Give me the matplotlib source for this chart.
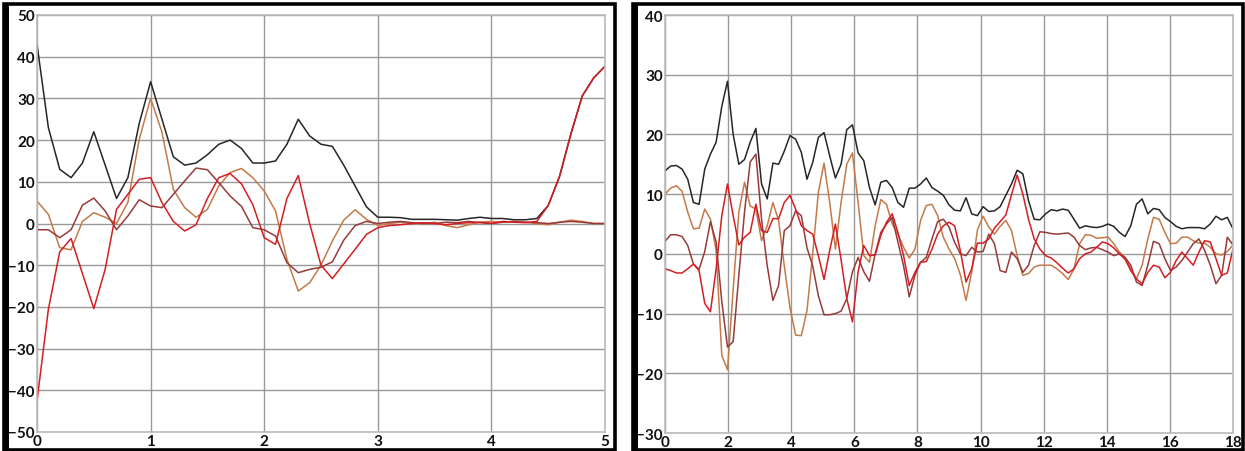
import matplotlib
matplotlib.use("Agg")
import matplotlib.pyplot as plt
import numpy as np
from matplotlib.patches import Rectangle

# ---- left panel data (step 0.1, 0..5) ----
x_left = np.linspace(0, 5, 51)
black_left = [43, 23, 13, 11, 14.5, 22, 14, 6, 11, 24,
              34, 25, 16, 14, 14.5, 16.5, 19, 20, 18, 14.5,
              14.5, 15, 19, 25, 21, 19, 18.5, 14, 9, 4,
              1.5, 1.5, 1.4, 1, 1, 1, 0.9, 0.8, 1.2, 1.5,
              1.2, 1.2, 0.9, 0.9, 1.2, 4.3, 11.3, 21.5, 30.6, 34.9, 37.7]
orange_left = [5.4, 2.2, -5.8, -6.3, 0.5, 2.6, 1.5, 0, 5.1, 20.2,
               30, 21.9, 8.2, 3.8, 1.5, 3.4, 9, 12.2, 13.2, 11,
               7.8, 3, -8.6, -16.2, -14.2, -10, -4.2, 0.8, 3.3, 1,
               -0.5, 0, 0.3, 0, 0, 0.3, -0.5, -1, -0.3, 0.3,
               0.5, 0.3, 0.5, 0.3, 0, -0.3, 0.3, 0.8, 0.5, 0, 0]
maroon_left = [-1.5, -1.5, -3.4, -1.5, 4.4, 6.1, 3, -1.5, 1.8, 5.7,
               4.2, 3.8, 7, 10.2, 13.3, 12.9, 9.8, 6.6, 4.1, -1,
               -1.5, -3, -9.4, -11.8, -11, -10.5, -9.2, -4, -0.5, 0.5,
               0, 0.3, 0.5, 0.2, 0, 0, 0.3, 0.2, 0.5, 0.2,
               0, 0.3, 0.5, 0.3, 0.2, 0, 0.3, 0.5, 0.3, 0, 0]
red_left = [-42.6, -20.6, -6.8, -3.6, -12, -20.4, -11, 3.4, 7, 10.6,
            11, 5, 0.5, -1.8, -0.3, 6, 11, 12, 9.5, 4.5,
            -3.4, -5, 6, 11.5, 0, -10, -13.2, -9.7, -6.2, -2.6,
            -1, -0.5, -0.3, 0, 0.2, 0, -0.3, 0, 0.2, 0.3,
            0, 0.5, 0.3, 0.2, 0.5, 4.3, 11.3, 21.5, 30.6, 34.9, 37.7]

# ---- right panel data (step 0.18, 0..18) ----
x_right = np.linspace(0, 18, 101)
black_right = [13.9, 14.7, 14.8, 14.2, 12.5, 8.6, 8.3, 14.2, 16.7, 18.7,
               24.7, 28.9, 20, 15, 15.8, 18.7, 21, 11.7, 9.2, 15.2,
               15, 17.2, 19.8, 19.2, 17, 12.5, 15.3, 19.5, 20.3, 16.4,
               12.7, 15, 20.8, 21.6, 16.9, 15.6, 11.1, 8.2, 12, 12.3,
               11.1, 8.6, 7.8, 11, 11, 11.7, 12.7, 11.1, 10.5, 9.8,
               8.2, 7.3, 7.2, 9.4, 6.7, 6.4, 7.9, 7.1, 7.2, 7.9,
               9.8, 11.7, 14, 13.4, 8.9, 5.8, 5.7, 6.7, 7.4, 7.2,
               7.5, 7.3, 5.8, 4.3, 4.7, 4.5, 4.4, 4.6, 5, 4.6,
               3.6, 2.9, 4.7, 8.3, 9.2, 6.7, 7.6, 7.4, 6.1, 5.4,
               4.6, 4.2, 4.4, 4.4, 4.4, 4.2, 5, 6.3, 5.7, 6.1, 4.2]
orange_right = [10, 11, 11.4, 10.5, 7, 4.2, 4.3, 7.5, 5.8, 0.6,
                -17, -19.4, -6, 7, 12, 8, 7.5, 2.2, 4.7, 8.6,
                5.6, -2, -9, -13.6, -13.7, -9.5, 0, 10.3, 15.2, 8.6,
                0.8, 8.6, 15, 16.9, 8.6, -0.3, -1.4, 4.7, 9.1, 8.3,
                5, 3.3, 1.1, -0.7, 0.8, 5.6, 8.1, 8.3, 6.4, 2.8,
                0.8, -0.8, -3.5, -7.8, -3, 4, 6.3, 4.5, 3.3, 4.6,
                5.6, 3.9, -0.3, -3.6, -3.3, -2.2, -1.9, -1.9, -1.9, -2.5,
                -3.3, -4.3, -2.5, 1.7, 3.2, 3.1, 2.6, 2.7, 2.8, 1.7,
                0.3, -0.6, -2.5, -4.2, -1.9, 2.5, 6.1, 5.8, 3.6, 1.7,
                1.8, 2.8, 2.8, 2.2, 1.8, 1.8, 1.1, 0, -0.2, 0.4, 1.5]
maroon_right = [2.1, 3.2, 3.2, 2.9, 1.4, -1.7, -2.6, 0.4, 5.4, 2,
                -8, -15.6, -14.7, -3.6, 7, 15.4, 16.7, 5.8, -2, -7.8,
                -5.3, 3.9, 4.7, 7.2, 6.4, 1, -2, -7, -10.2, -10.2,
                -10, -9.6, -7.5, -3, -0.6, -3, -4.6, 0, 3.6, 5,
                6.1, 2, -2, -7.2, -3.6, -1.4, -0.6, 2.5, 5.4, 5.8,
                4.5, 1.9, 0, -0.3, 1.1, 0.3, 0.4, 3.3, 1.7, -2.8,
                -3.1, 0.3, -0.8, -3.1, -1.9, 1.4, 3.7, 3.6, 3.4, 3.3,
                3.4, 3.5, 2.8, 1.4, 0.7, 1, 1.1, 0.7, 0.3, -0.3,
                0, -0.6, -1.9, -4.7, -5.3, -1.9, 2.1, 1.7, -0.8, -2.8,
                -2.2, -1.1, 0.3, 1.7, 2.5, 0.6, -1.9, -5, -3.6, 2.8, 1.5]
red_right = [-2.5, -2.8, -3.2, -3.2, -2.5, -1.7, -2.8, -8.3, -9.7, -2.5,
             6.4, 11.7, 6.4, 1.5, 2.8, 3.6, 8.3, 3.9, 3.6, 5.9,
             5.9, 8.6, 9.8, 7.5, 4.7, 3.9, 3.3, -0.3, -4.3, 0.6,
             5, -1, -7.5, -11.4, -3, 1.4, -0.3, -0.2, 3.1, 5.3,
             6.7, 3.6, -0.3, -5.3, -3.1, -1.4, -1.3, 0.8, 3.3, 4.7,
             5.3, 4.7, 0.5, -4.7, -2.5, 1.8, 1.8, 2.5, 4.3, 5.4,
             6.5, 9.9, 13.2, 10, 5.8, 2.5, 0.8, -0.3, -0.7, -1.5,
             -2.4, -3.2, -2.5, -0.8, 0, 0.3, 1.1, 2, 1.7, 1,
             0, -0.9, -2.8, -4.2, -5, -3.1, -1.9, -2.2, -4, -3.1,
             -1.1, 0.3, -0.8, -1.9, 0.3, 2.2, 2, -0.8, -3.6, -3.2, 0.8]

colors = {"black": "#262626", "orange": "#c47a48", "maroon": "#983a3a", "red": "#d41e24"}

W, H = 1245, 452
fig = plt.figure(figsize=(W / 100, H / 100), dpi=100)
fig.patch.set_facecolor("white")


def px_axes(x0, y0, x1, y1):
    return fig.add_axes([x0 / W, 1 - y1 / H, (x1 - x0) / W, (y1 - y0) / H])


def style(ax, xlim, ylim, xticks, yticks):
    ax.set_xlim(*xlim)
    ax.set_ylim(*ylim)
    ax.set_xticks(xticks)
    ax.set_yticks(yticks)
    ax.grid(True, color="#999999", linewidth=1.0)
    ax.set_axisbelow(True)
    for s in ax.spines.values():
        s.set_color("#bbbbbb")
        s.set_linewidth(1.2)
    ax.tick_params(length=0, pad=1.5, labelsize=11)
    for lab in ax.get_xticklabels() + ax.get_yticklabels():
        lab.set_fontweight("bold")
        lab.set_fontfamily("Lato")
        lab.set_color("#111111")


# frames
def frame(x0, y0, x1, y1):
    fig.patches.append(Rectangle((x0 / W, 1 - y1 / H), (x1 - x0) / W, (y1 - y0) / H,
                                 transform=fig.transFigure, fill=False,
                                 edgecolor="black", linewidth=2.6))
    fig.patches.append(Rectangle((x0 / W, 1 - y1 / H), 5 / W, (y1 - y0) / H,
                                 transform=fig.transFigure, facecolor="black",
                                 edgecolor="none"))


frame(4, 5, 615, 451)
frame(633, 5, 1243, 451)

ax1 = px_axes(37, 16, 605, 433)
ax1.plot(x_left, black_left, color=colors["black"], lw=1.1)
ax1.plot(x_left, orange_left, color=colors["orange"], lw=1.1)
ax1.plot(x_left, maroon_left, color=colors["maroon"], lw=1.1)
ax1.plot(x_left, red_left, color=colors["red"], lw=1.1)
style(ax1, (0, 5), (-50, 50), range(0, 6), range(-50, 51, 10))

ax2 = px_axes(665, 16, 1233, 434)
ax2.plot(x_right, black_right, color=colors["black"], lw=1.1)
ax2.plot(x_right, orange_right, color=colors["orange"], lw=1.1)
ax2.plot(x_right, maroon_right, color=colors["maroon"], lw=1.1)
ax2.plot(x_right, red_right, color=colors["red"], lw=1.1)
style(ax2, (0, 18), (-30, 40), range(0, 19, 2), range(-30, 41, 10))

fig.savefig("out.png", dpi=100)
